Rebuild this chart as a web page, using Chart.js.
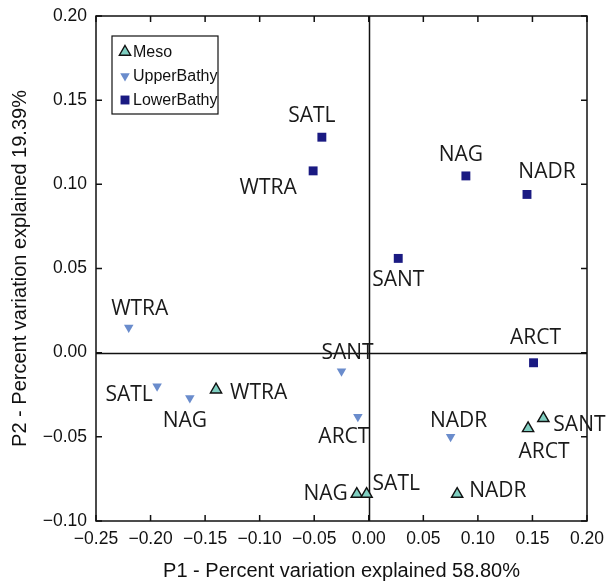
<!DOCTYPE html>
<html><head><meta charset="utf-8">
<script src="https://cdn.jsdelivr.net/npm/chart.js@4/dist/chart.umd.min.js"></script>
<style>html,body{margin:0;padding:0;background:#fff}#wrap{width:608px;height:583px}</style>
</head><body><div id="wrap"><canvas id="c" width="608" height="583"></canvas></div>
<script>
// ---- data ----
const mesoLabels = ['WTRA','NAG','SATL','NADR','ARCT','SANT'];
const mesoX = [-0.140,-0.011,-0.002,0.081,0.146,0.160];
const mesoY = [-0.022,-0.084,-0.084,-0.084,-0.045,-0.039];

const upperLabels = ['WTRA','SATL','NAG','SANT','ARCT','NADR'];
const upperX = [-0.220,-0.194,-0.164,-0.025,-0.010,0.075];
const upperY = [0.015,-0.020,-0.027,-0.011,-0.038,-0.050];

const lowerLabels = ['SATL','WTRA','NAG','SANT','NADR','ARCT'];
const lowerX = [-0.043,-0.051,0.089,0.027,0.145,0.151];
const lowerY = [0.128,0.108,0.105,0.056,0.094,-0.006];

const seriesNames = ['Meso','UpperBathy','LowerBathy'];
const xTicks = [-0.25,-0.20,-0.15,-0.10,-0.05,0.00,0.05,0.10,0.15,0.20];
const yTicks = [-0.10,-0.05,0.00,0.05,0.10,0.15,0.20];
const xTitle = 'P1 - Percent variation explained 58.80%';
const yTitle = 'P2 - Percent variation explained 19.39%';

// ---- label layout (pixel offsets from marker, alignment) ----
const mesoLabelPos = [[14,3,'left'],[-9,0,'right'],[6,-10,'left'],[12,-3,'left'],[16,24,'center'],[10,7,'left']];
const upperLabelPos = [[11,-18,'center'],[-28,9,'center'],[-5,23,'center'],[6,-18,'center'],[-14,20,'center'],[8,-16,'center']];
const lowerLabelPos = [[-10,-21,'center'],[-45,17,'center'],[-5,-21,'center'],[0,22,'center'],[20,-22,'center'],[2,-25,'center']];

const pts = (xs, ys) => xs.map((x,i)=>({x:x, y:ys[i]}));
const fmt = v => { if (Math.abs(v) < 1e-9) v = 0; return v.toFixed(2).replace('-', '\u2212'); };
const AX_FONT = '"Liberation Sans", Arial, sans-serif';

const datasets = [
  {label: seriesNames[0], data: pts(mesoX, mesoY), pointStyle:'triangle', rotation:0, pointRadius:6.5,
   backgroundColor:'#7fcfc1', borderColor:'#111', borderWidth:1.4, _labels: mesoLabels, _pos: mesoLabelPos},
  {label: seriesNames[1], data: pts(upperX, upperY), pointStyle:'triangle', rotation:180, pointRadius:5.5,
   backgroundColor:'#6a8ccc', borderColor:'#6a8ccc', borderWidth:0, _labels: upperLabels, _pos: upperLabelPos},
  {label: seriesNames[2], data: pts(lowerX, lowerY), pointStyle:'rect', rotation:0, pointRadius:6.3,
   backgroundColor:'#1a1a82', borderColor:'#1a1a82', borderWidth:0, _labels: lowerLabels, _pos: lowerLabelPos}
];

const decor = {
  id: 'decor',
  beforeDatasetsDraw(chart) {
    const {ctx, chartArea: a, scales: {x, y}} = chart;
    ctx.save();
    ctx.strokeStyle = '#111';
    ctx.lineWidth = 1.5;
    const x0 = Math.round(x.getPixelForValue(0)) + 0.5;
    const y0 = Math.round(y.getPixelForValue(0)) + 0.5;
    ctx.beginPath();
    ctx.moveTo(x0, a.top); ctx.lineTo(x0, a.bottom);
    ctx.moveTo(a.left, y0); ctx.lineTo(a.right, y0);
    ctx.stroke();
    ctx.strokeRect(a.left, a.top, a.right - a.left, a.bottom - a.top);
    const tl = 6;
    ctx.beginPath();
    xTicks.forEach(v => {
      const p = x.getPixelForValue(v);
      ctx.moveTo(p, a.bottom); ctx.lineTo(p, a.bottom - tl);
      ctx.moveTo(p, a.top); ctx.lineTo(p, a.top + tl);
    });
    yTicks.forEach(v => {
      const p = y.getPixelForValue(v);
      ctx.moveTo(a.left, p); ctx.lineTo(a.left + tl, p);
      ctx.moveTo(a.right, p); ctx.lineTo(a.right - tl, p);
    });
    ctx.stroke();
    ctx.restore();
  },
  afterDatasetsDraw(chart) {
    const {ctx, chartArea: a} = chart;
    ctx.save();
    ctx.font = '21px "Open Sans", "Noto Sans", sans-serif';
    ctx.fillStyle = '#1a1a1a';
    ctx.textBaseline = 'middle';
    chart.data.datasets.forEach((ds, di) => {
      const meta = chart.getDatasetMeta(di);
      meta.data.forEach((el, i) => {
        const [dx, dy, al] = ds._pos[i];
        ctx.textAlign = al;
        ctx.fillText(ds._labels[i], el.x + dx, el.y + dy);
      });
    });
    const lx = a.left + 16, ly = a.top + 20;
    ctx.strokeStyle = '#111';
    ctx.lineWidth = 1.2;
    ctx.strokeRect(lx, ly, 106, 78);
    ctx.font = '16px ' + AX_FONT;
    ctx.textAlign = 'left';
    chart.data.datasets.forEach((ds, di) => {
      const cy = ly + 16 + di * 24;
      ctx.save();
      ctx.fillStyle = ds.backgroundColor;
      ctx.strokeStyle = ds.borderColor;
      ctx.lineWidth = ds.borderWidth;
      Chart.helpers.drawPoint(ctx, {pointStyle: ds.pointStyle, rotation: ds.rotation, radius: ds.pointRadius, borderWidth: ds.borderWidth}, lx + 13, cy);
      ctx.restore();
      ctx.fillStyle = '#111';
      ctx.fillText(ds.label, lx + 21, cy + 1);
    });
    ctx.restore();
  }
};

new Chart(document.getElementById('c'), {
  type: 'scatter',
  data: {datasets},
  options: {
    responsive: false,
    animation: false,
    events: [],
    layout: {padding: {left: 0, top: 16, right: 21, bottom: 0}},
    plugins: {legend: {display: false}, tooltip: {enabled: false}},
    scales: {
      x: {
        type: 'linear', min: -0.25, max: 0.20,
        afterBuildTicks: s => { s.ticks = xTicks.map(v => ({value: v})); },
        afterFit: s => { s.height = 62; s.paddingLeft = 0; s.paddingRight = 0; },
        grid: {display: false, drawTicks: false},
        border: {display: false},
        ticks: {color: '#111', padding: 8, maxRotation: 0, autoSkip: false,
                font: {family: AX_FONT, size: 17.5},
                callback: v => fmt(v)},
        title: {display: true, text: xTitle, color: '#111', padding: {top: 0, bottom: 0},
                font: {family: AX_FONT, size: 20}}
      },
      y: {
        type: 'linear', min: -0.10, max: 0.20,
        afterBuildTicks: s => { s.ticks = yTicks.map(v => ({value: v})); },
        afterFit: s => { s.width = 96; s.paddingTop = 0; s.paddingBottom = 0; },
        grid: {display: false, drawTicks: false},
        border: {display: false},
        ticks: {color: '#111', padding: 9, autoSkip: false,
                font: {family: AX_FONT, size: 17.5},
                callback: v => fmt(v)},
        title: {display: true, text: yTitle, color: '#111', padding: {top: 8, bottom: 0},
                font: {family: AX_FONT, size: 20}}
      }
    }
  },
  plugins: [decor]
});
</script>
</body></html>
